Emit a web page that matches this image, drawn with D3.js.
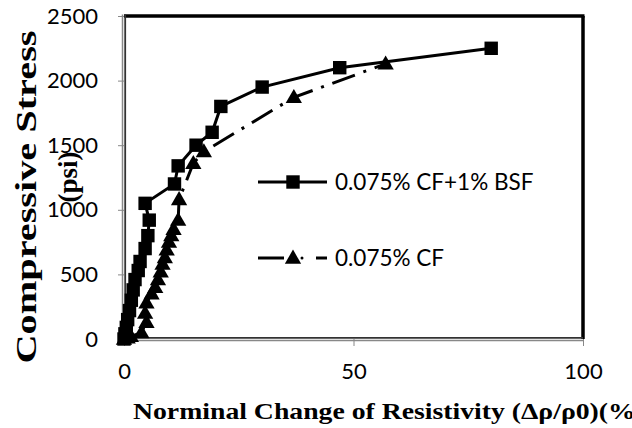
<!DOCTYPE html>
<html>
<head>
<meta charset="utf-8">
<script src="https://cdn.jsdelivr.net/npm/d3@7"></script>
<style>
  body { margin: 0; background: #fff; }
  svg { display: block; }
</style>
</head>
<body>
<svg></svg>
<script>
let width = 632, height = 428

// 0.075% CF+1% BSF (squares, solid)
let bsfX = [0, 0.2, 0.5, 0.8, 1.2, 1.6, 2.0, 2.4, 3.1, 3.5, 4.6, 5.2, 5.5, 4.6, 11.0, 11.8, 15.7, 19.2, 21.1, 30.1, 47, 80]
let bsfY = [0, 40, 90, 150, 220, 300, 380, 460, 530, 600, 700, 800, 920, 1050, 1200, 1340, 1500, 1600, 1800, 1950, 2100, 2250]

// 0.075% CF (triangles, dash-dot)
let cfX = [0, 0.8, 1.5, 3.8, 4.9, 4.6, 4.9, 6.0, 6.8, 7.4, 8.0, 8.4, 8.9, 9.3, 9.8, 10.3, 10.8, 11.8, 12.0, 15.1, 17.4, 37, 57]
let cfY = [0, 10, 20, 50, 130, 200, 280, 350, 400, 460, 520, 580, 630, 690, 750, 800, 850, 920, 1080, 1360, 1450, 1870, 2130]

let xTicks = [0, 50, 100]
let yTicks = [0, 500, 1000, 1500, 2000, 2500]
let seriesNames = ["0.075% CF+1% BSF", "0.075% CF"]

let svg = d3.select("svg").attr("width", width).attr("height", height)

let x = d3.scaleLinear().domain([0, 100]).range([124, 583])
let y = d3.scaleLinear().domain([0, 2500]).range([339, 16])

const zip = (xs, ys) => xs.map((v, i) => [v, ys[i]])
const sans = "Lato, 'Open Sans', sans-serif"
const serif = "'Liberation Serif', 'Times New Roman', serif"

// frame: top and right heavy black
svg.append("line").attr("x1", x(0)).attr("x2", x(100) + 1.5).attr("y1", y(2500)).attr("y2", y(2500))
    .attr("stroke", "#000").attr("stroke-width", 3.5)
svg.append("line").attr("x1", x(100)).attr("x2", x(100)).attr("y1", y(2500)).attr("y2", y(0))
    .attr("stroke", "#000").attr("stroke-width", 3.5)

// y axis
let yAxis = svg.append("g").attr("transform", `translate(${x(0)},0)`)
    .call(d3.axisLeft(y).tickValues(yTicks).tickSize(6).tickFormat(d3.format("d")))
yAxis.select(".domain").remove()
yAxis.selectAll(".tick line").attr("stroke", "#888").attr("stroke-width", 1)
yAxis.selectAll(".tick text").attr("x", -26).attr("font-family", sans)
    .attr("font-size", 22).attr("fill", "#000")
svg.append("line").attr("x1", x(0) - 1.5).attr("x2", x(0) - 1.5).attr("y1", y(2500) - 1.5).attr("y2", y(0) + 1)
    .attr("stroke", "#888").attr("stroke-width", 1.5)
svg.append("line").attr("x1", x(0) + 1.2).attr("x2", x(0) + 1.2).attr("y1", y(2500) - 1.5).attr("y2", y(0) + 1)
    .attr("stroke", "#333").attr("stroke-width", 1.8)

// x axis
let xAxis = svg.append("g").attr("transform", `translate(0,${y(0)})`)
    .call(d3.axisBottom(x).tickValues(xTicks).tickSize(7))
xAxis.select(".domain").remove()
xAxis.selectAll(".tick line").attr("stroke", "#888").attr("stroke-width", 1)
xAxis.selectAll(".tick text").attr("y", 24).attr("font-family", sans)
    .attr("font-size", 22).attr("fill", "#000")
svg.append("line").attr("x1", x(0)).attr("x2", x(100)).attr("y1", y(0) - 1.2).attr("y2", y(0) - 1.2)
    .attr("stroke", "#333").attr("stroke-width", 1.8)
svg.append("line").attr("x1", x(0)).attr("x2", x(100)).attr("y1", y(0) + 1.5).attr("y2", y(0) + 1.5)
    .attr("stroke", "#888").attr("stroke-width", 1.5)

let line = d3.line().x(d => x(d[0])).y(d => y(d[1]))
let square = d3.symbol().type(d3.symbolSquare).size(180)
let triangle = d3.symbol().type(d3.symbolTriangle).size(115)

// series 1
let bsf = zip(bsfX, bsfY)
svg.append("path").datum(bsf).attr("d", line)
    .attr("fill", "none").attr("stroke", "#000").attr("stroke-width", 3)
svg.selectAll(".sq").data(bsf).enter().append("path").attr("class", "sq")
    .attr("d", square).attr("transform", d => `translate(${x(d[0])},${y(d[1])})`)
    .attr("fill", "#000")

// series 2
let cf = zip(cfX, cfY)
svg.append("path").datum(cf).attr("d", line)
    .attr("fill", "none").attr("stroke", "#000").attr("stroke-width", 3)
    .attr("stroke-dasharray", "24,9,3,9")
svg.selectAll(".tri").data(cf).enter().append("path").attr("class", "tri")
    .attr("d", triangle).attr("transform", d => `translate(${x(d[0])},${y(d[1]) + 1})`)
    .attr("fill", "#000")

// legend
let legend = svg.append("g")
let lg1 = legend.append("g").attr("transform", "translate(258,182)")
lg1.append("line").attr("x1", 0).attr("x2", 69).attr("stroke", "#000").attr("stroke-width", 3)
lg1.append("path").attr("d", square).attr("transform", "translate(35,0)")
lg1.append("text").attr("x", 77).attr("y", 8).text(seriesNames[0])
let lg2 = legend.append("g").attr("transform", "translate(258,258)")
lg2.append("line").attr("x1", 0).attr("x2", 26).attr("stroke", "#000").attr("stroke-width", 3)
lg2.append("path").attr("d", triangle).attr("transform", "translate(35,1)")
lg2.append("circle").attr("cx", 44).attr("cy", 0).attr("r", 1.5)
lg2.append("line").attr("x1", 58).attr("x2", 69).attr("stroke", "#000").attr("stroke-width", 3)
lg2.append("text").attr("x", 77).attr("y", 8).text(seriesNames[1])
legend.selectAll("text").attr("font-family", sans).attr("font-size", 22.5)

// axis titles
svg.append("text").attr("x", 133).attr("y", 419)
    .attr("font-family", serif).attr("font-weight", "bold")
    .attr("font-size", 24).attr("textLength", 512).attr("lengthAdjust", "spacingAndGlyphs")
    .text("Norminal Change of Resistivity (Δρ/ρ0)(%)")

svg.append("text").attr("transform", "translate(36,197) rotate(-90)").attr("text-anchor", "middle")
    .attr("font-family", serif).attr("font-weight", "bold")
    .attr("font-size", 30).attr("textLength", 333).attr("lengthAdjust", "spacingAndGlyphs")
    .text("Compressive Stress")
svg.append("text").attr("transform", "translate(77,177) rotate(-90)").attr("text-anchor", "middle")
    .attr("font-family", serif).attr("font-weight", "bold")
    .attr("font-size", 27)
    .text("(psi)")
</script>
</body>
</html>
